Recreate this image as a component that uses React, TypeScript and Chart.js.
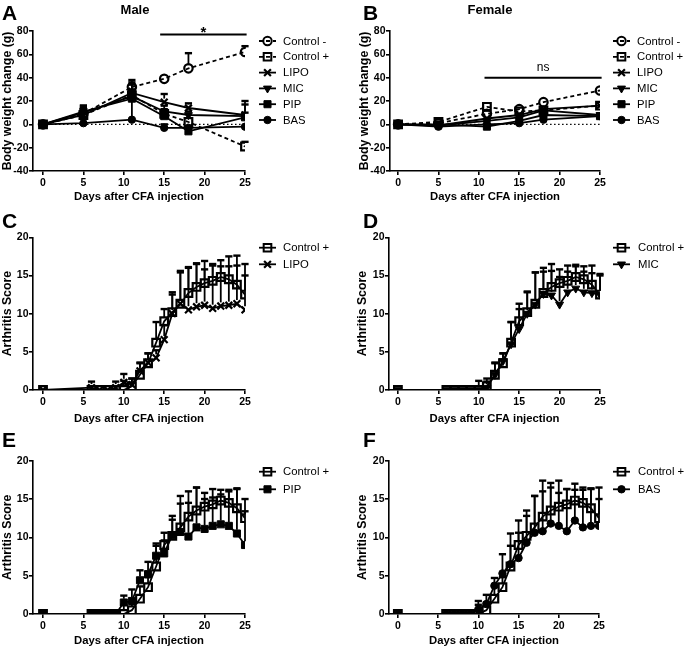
import React, { useEffect, useRef } from 'react';
import { Chart, registerables } from 'chart.js';

Chart.register(...registerables);

// ---------------- DATA ----------------
const bwDays = [0, 5, 11, 15, 18, 25];
const bwTicksX = [0, 5, 10, 15, 20, 25];
const bwTicksY = [-40, -20, 0, 20, 40, 60, 80];

const maleCtrlNeg = [0, 9, 32, 39, 48, 62];
const maleCtrlNegErr = [0, 5, 6, 2, 13, 5];
const maleCtrlPos = [0, 8, 25, 9, 2, -19];
const maleCtrlPosErr = [0, 4, 5, 4, 3, 4];
const maleLIPO = [0, 8, 27, 19, 14, 8];
const maleLIPOErr = [0, 6, 9, 7, 4, 12];
const maleMIC = [0, 10, 24, 11, 8, 7];
const maleMICErr = [0, 6, 10, 5, 3, 10];
const malePIP = [0, 11, 22, 7, -6, 6];
const malePIPErr = [0, 5, 5, 5, 3, 4];
const maleBAS = [0, 1, 4, -3, -3, -2];
const maleBASErr = [0, 2, 18, 3, 2, 2];

const femCtrlNeg = [0, 1, 9, 13, 19, 29];
const femCtrlNegErr = [0, 1, 3, 2, 2, 2];
const femCtrlPos = [0, 2, 15, 11, 12, 16];
const femCtrlPosErr = [0, 1, 2, 2, 2, 2];
const femLIPO = [0, -1, 5, 8, 13, 16];
const femLIPOErr = [0, 1, 2, 2, 2, 2];
const femMIC = [0, -1, 3, 6, 12, 8];
const femMICErr = [0, 1, 2, 2, 2, 2];
const femPIP = [0, 0, -2, 3, 8, 7];
const femPIPErr = [0, 1, 1, 2, 2, 2];
const femBAS = [0, -2, 0, 1, 4, 7];
const femBASErr = [0, 1, 1, 1, 2, 2];

const arDays = [0, 6, 7, 8, 9, 10, 11, 12, 13, 14, 15, 16, 17, 18, 19, 20, 21, 22, 23, 24, 25];
const arTicksX = [0, 5, 10, 15, 20, 25];
const arTicksY = [0, 5, 10, 15, 20];

const arCtrlPos = [0, 0, 0, 0, 0, 0, 0.5, 2, 3.5, 6.2, 9, 10.2, 11.3, 12.7, 13.5, 14, 14.3, 14.8, 14.5, 13.8, 12.5];
const arCtrlPosErr = [0, 0, 0, 0, 0, 1.2, 1.0, 1.6, 1.3, 2.7, 1.6, 2.6, 4.1, 3.3, 3.0, 1.8, 2.0, 1.4, 1.7, 2.5, 2.5];
const arLIPO = [0, 0.3, 0, 0, 0.3, 1, 0.7, 2.5, 3.6, 4.2, 6.6, 10, 11.3, 10.5, 10.9, 11.1, 10.7, 11, 11.1, 11.3, 10.5];
const arLIPOErr = [0, 0.8, 0, 0, 0.8, 1.1, 0.8, 1.0, 1.2, 1.0, 1.9, 2.5, 4.3, 5.6, 5.7, 5.8, 5.8, 6.0, 6.4, 6.3, 6.0];
const arMIC = [0, 0, 0, 0, 0, 0, 0.3, 2, 3.8, 6, 8, 10, 11.2, 12.6, 12.4, 11.2, 12.8, 13.3, 12.8, 12.7, 12.5];
const arMICErr = [0, 0, 0, 0, 0, 0, 0.8, 1.5, 1.0, 2.9, 3.3, 2.9, 4.2, 2.9, 3.2, 3.6, 2.7, 3.1, 2.7, 2.6, 2.7];
const arPIP = [0, 0, 0, 0, 0, 1.5, 1.7, 4.4, 5.2, 7.6, 7.9, 10.3, 10.7, 10.1, 11.3, 11.1, 11.5, 11.7, 11.5, 10.5, 9];
const arPIPErr = [0, 0, 0, 0, 0, 0.9, 1.5, 1.3, 1.6, 1.6, 1.7, 2.0, 3.7, 4.4, 5.2, 3.9, 3.7, 3.9, 4.5, 5.9, 4.4];
const arBAS = [0, 0, 0, 0, 0, 0.6, 1.3, 3.7, 5.3, 6.5, 7.3, 9.3, 10.6, 10.8, 11.8, 11.5, 10.8, 12.2, 11.3, 11.5, 11.5];
const arBASErr = [0, 0, 0, 0, 0, 1.1, 1.2, 1.0, 2.5, 4.0, 4.9, 4.2, 4.8, 6.6, 5.3, 5.9, 5.5, 4.8, 5.2, 4.9, 5.0];

// ---------------- STYLE ----------------
const FONT = "'Liberation Sans', Arial, Helvetica, sans-serif";

type MarkerStyle = { shape: string; radius: number; rotation: number; hollow: boolean; dashed: boolean };
const STYLES: Record<string, MarkerStyle> = {
  'Control -': { shape: 'circle', radius: 4.2, rotation: 0, hollow: true, dashed: true },
  'Control +': { shape: 'rect', radius: 5.4, rotation: 0, hollow: true, dashed: true },
  LIPO: { shape: 'crossRot', radius: 4.8, rotation: 0, hollow: false, dashed: false },
  MIC: { shape: 'triangle', radius: 4.6, rotation: 180, hollow: false, dashed: false },
  PIP: { shape: 'rect', radius: 5, rotation: 0, hollow: false, dashed: false },
  BAS: { shape: 'circle', radius: 3.7, rotation: 0, hollow: false, dashed: false },
};

type Series = { label: string; values: number[]; errors: number[] };

type PanelCfg = {
  key: string;
  x: number; y: number; w: number; h: number;
  area: { l: number; r: number; t: number; b: number };
  xMin: number; xMax: number; yMin: number; yMax: number;
  xTicks: number[]; yTicks: number[];
  days: number[];
  series: Series[];
  dashControls: boolean;
  yTitle: string;
  yTitleX: number; xTitleY: number;
  legend: { x0: number; x1: number; tx: number; y0: number; dy: number };
  letter: { text: string; x: number; base: number };
  title?: { text: string; x: number; y: number };
  sig?: { x0: number; x1: number; yv: number; text: string; bold: boolean; size: number; dy: number };
  zeroLine: boolean;
};

const PANELS: PanelCfg[] = [
  {
    key: 'A', x: 0, y: 0, w: 340, h: 210,
    area: { l: 33, r: 245, t: 31, b: 171 },
    xMin: -1.24, xMax: 25, yMin: -40, yMax: 80, xTicks: bwTicksX, yTicks: bwTicksY,
    days: bwDays,
    series: [
      { label: 'Control -', values: maleCtrlNeg, errors: maleCtrlNegErr },
      { label: 'Control +', values: maleCtrlPos, errors: maleCtrlPosErr },
      { label: 'LIPO', values: maleLIPO, errors: maleLIPOErr },
      { label: 'MIC', values: maleMIC, errors: maleMICErr },
      { label: 'PIP', values: malePIP, errors: malePIPErr },
      { label: 'BAS', values: maleBAS, errors: maleBASErr },
    ],
    dashControls: true,
    yTitle: 'Body weight change (g)', yTitleX: 8, xTitleY: 197,
    legend: { x0: 259, x1: 276, tx: 283, y0: 41, dy: 15.8 },
    letter: { text: 'A', x: 2, base: 20 },
    title: { text: 'Male', x: 135, y: 10 },
    sig: { x0: 14.5, x1: 25.2, yv: 77, text: '*', bold: true, size: 15, dy: 2 },
    zeroLine: true,
  },
  {
    key: 'B', x: 340, y: 0, w: 345, h: 210,
    area: { l: 50, r: 260, t: 31, b: 171 },
    xMin: -1.0, xMax: 25, yMin: -40, yMax: 80, xTicks: bwTicksX, yTicks: bwTicksY,
    days: bwDays,
    series: [
      { label: 'Control -', values: femCtrlNeg, errors: femCtrlNegErr },
      { label: 'Control +', values: femCtrlPos, errors: femCtrlPosErr },
      { label: 'LIPO', values: femLIPO, errors: femLIPOErr },
      { label: 'MIC', values: femMIC, errors: femMICErr },
      { label: 'PIP', values: femPIP, errors: femPIPErr },
      { label: 'BAS', values: femBAS, errors: femBASErr },
    ],
    dashControls: true,
    yTitle: 'Body weight change (g)', yTitleX: 25, xTitleY: 197,
    legend: { x0: 273, x1: 290, tx: 297, y0: 41, dy: 15.8 },
    letter: { text: 'B', x: 23, base: 20 },
    title: { text: 'Female', x: 150, y: 10 },
    sig: { x0: 10.7, x1: 25.2, yv: 40, text: 'ns', bold: false, size: 12, dy: -7 },
    zeroLine: true,
  },
  {
    key: 'C', x: 0, y: 210, w: 340, h: 220,
    area: { l: 33, r: 245, t: 27.3, b: 180 },
    xMin: -1.24, xMax: 25, yMin: 0, yMax: 20, xTicks: arTicksX, yTicks: arTicksY,
    days: arDays,
    series: [
      { label: 'Control +', values: arCtrlPos, errors: arCtrlPosErr },
      { label: 'LIPO', values: arLIPO, errors: arLIPOErr },
    ],
    dashControls: false,
    yTitle: 'Arthritis Score', yTitleX: 8, xTitleY: 209,
    legend: { x0: 259, x1: 276, tx: 283, y0: 37.7, dy: 16.6 },
    letter: { text: 'C', x: 2, base: 18.3 },
    zeroLine: false,
  },
  {
    key: 'D', x: 340, y: 210, w: 345, h: 220,
    area: { l: 49, r: 260, t: 27.3, b: 180 },
    xMin: -1.1, xMax: 25, yMin: 0, yMax: 20, xTicks: arTicksX, yTicks: arTicksY,
    days: arDays,
    series: [
      { label: 'Control +', values: arCtrlPos, errors: arCtrlPosErr },
      { label: 'MIC', values: arMIC, errors: arMICErr },
    ],
    dashControls: false,
    yTitle: 'Arthritis Score', yTitleX: 23, xTitleY: 209,
    legend: { x0: 273, x1: 290, tx: 298, y0: 37.7, dy: 16.6 },
    letter: { text: 'D', x: 23, base: 18.3 },
    zeroLine: false,
  },
  {
    key: 'E', x: 0, y: 430, w: 340, h: 221,
    area: { l: 33, r: 245, t: 30.7, b: 184 },
    xMin: -1.24, xMax: 25, yMin: 0, yMax: 20, xTicks: arTicksX, yTicks: arTicksY,
    days: arDays,
    series: [
      { label: 'Control +', values: arCtrlPos, errors: arCtrlPosErr },
      { label: 'PIP', values: arPIP, errors: arPIPErr },
    ],
    dashControls: false,
    yTitle: 'Arthritis Score', yTitleX: 8, xTitleY: 210.7,
    legend: { x0: 259, x1: 276, tx: 283, y0: 41.7, dy: 17.6 },
    letter: { text: 'E', x: 2, base: 16.7 },
    zeroLine: false,
  },
  {
    key: 'F', x: 340, y: 430, w: 345, h: 221,
    area: { l: 49, r: 259, t: 30.7, b: 184 },
    xMin: -1.1, xMax: 25, yMin: 0, yMax: 20, xTicks: arTicksX, yTicks: arTicksY,
    days: arDays,
    series: [
      { label: 'Control +', values: arCtrlPos, errors: arCtrlPosErr },
      { label: 'BAS', values: arBAS, errors: arBASErr },
    ],
    dashControls: false,
    yTitle: 'Arthritis Score', yTitleX: 23, xTitleY: 210.7,
    legend: { x0: 273, x1: 290, tx: 298, y0: 41.7, dy: 17.6 },
    letter: { text: 'F', x: 23, base: 16.7 },
    zeroLine: false,
  },
];

// ---------------- DRAW HELPERS ----------------
function drawMarker(ctx: CanvasRenderingContext2D, st: MarkerStyle, x: number, y: number) {
  const r = st.radius;
  ctx.save();
  ctx.strokeStyle = '#000';
  ctx.fillStyle = '#000';
  ctx.lineWidth = st.hollow ? 2 : 1;
  ctx.setLineDash([]);
  ctx.beginPath();
  if (st.shape === 'circle') {
    ctx.arc(x, y, r, 0, Math.PI * 2);
  } else if (st.shape === 'rect') {
    const s = r * Math.SQRT1_2;
    ctx.rect(x - s, y - s, 2 * s, 2 * s);
  } else if (st.shape === 'triangle') {
    let rad = (st.rotation * Math.PI) / 180;
    ctx.moveTo(x + Math.sin(rad) * r, y - Math.cos(rad) * r);
    rad += (2 * Math.PI) / 3;
    ctx.lineTo(x + Math.sin(rad) * r, y - Math.cos(rad) * r);
    rad += (2 * Math.PI) / 3;
    ctx.lineTo(x + Math.sin(rad) * r, y - Math.cos(rad) * r);
    ctx.closePath();
  } else if (st.shape === 'crossRot') {
    const o = Math.cos(Math.PI / 4) * r;
    ctx.moveTo(x - o, y - o);
    ctx.lineTo(x + o, y + o);
    ctx.moveTo(x + o, y - o);
    ctx.lineTo(x - o, y + o);
    ctx.lineWidth = 2.2;
    ctx.stroke();
    ctx.restore();
    return;
  }
  if (!st.hollow) ctx.fill();
  ctx.stroke();
  ctx.restore();
}

function makePlugin(p: PanelCfg) {
  return {
    id: 'deco' + p.key,
    beforeDatasetsDraw(chart: any) {
      if (!p.zeroLine) return;
      const { ctx } = chart;
      const xs = chart.scales.x;
      const ys = chart.scales.y;
      const yy = ys.getPixelForValue(0);
      ctx.save();
      ctx.strokeStyle = '#000';
      ctx.lineWidth = 1.3;
      ctx.setLineDash([1.5, 2.5]);
      ctx.beginPath();
      ctx.moveTo(xs.getPixelForValue(0), yy);
      ctx.lineTo(xs.getPixelForValue(25), yy);
      ctx.stroke();
      ctx.restore();
    },
    afterDatasetsDraw(chart: any) {
      const { ctx } = chart;
      const xs = chart.scales.x;
      const ys = chart.scales.y;
      ctx.save();
      ctx.strokeStyle = '#000';
      ctx.setLineDash([]);
      chart.data.datasets.forEach((ds: any) => {
        const errs: number[] = ds.errors || [];
        ds.data.forEach((pt: any, i: number) => {
          const e = errs[i];
          if (!e) return;
          const px = xs.getPixelForValue(pt.x);
          const py = ys.getPixelForValue(pt.y);
          const pt2 = ys.getPixelForValue(pt.y + e);
          const start = py - ds.pointRadius * 0.75;
          if (pt2 >= start) return;
          ctx.lineWidth = 1.8;
          ctx.beginPath();
          ctx.moveTo(px, start);
          ctx.lineTo(px, pt2);
          ctx.stroke();
          ctx.lineWidth = 2.4;
          ctx.beginPath();
          ctx.moveTo(px - 3.6, pt2);
          ctx.lineTo(px + 3.6, pt2);
          ctx.stroke();
        });
      });
      ctx.restore();
    },
    afterDraw(chart: any) {
      const { ctx } = chart;
      const xs = chart.scales.x;
      const ys = chart.scales.y;
      ctx.save();
      ctx.fillStyle = '#000';
      ctx.strokeStyle = '#000';
      // legend
      const lg = p.legend;
      chart.data.datasets.forEach((ds: any, i: number) => {
        const st = STYLES[ds.label];
        const yy = lg.y0 + i * lg.dy;
        ctx.save();
        ctx.lineWidth = 1.8;
        ctx.setLineDash(ds.borderDash && ds.borderDash.length ? [4, 3] : []);
        ctx.beginPath();
        ctx.moveTo(lg.x0, yy);
        ctx.lineTo(lg.x1, yy);
        ctx.stroke();
        ctx.restore();
        drawMarker(ctx, st, (lg.x0 + lg.x1) / 2, yy);
        ctx.font = `normal 11.3px ${FONT}`;
        ctx.textAlign = 'left';
        ctx.textBaseline = 'middle';
        ctx.fillText(ds.label, lg.tx, yy + 0.5);
      });
      // panel letter
      ctx.font = `bold 21px ${FONT}`;
      ctx.textAlign = 'left';
      ctx.textBaseline = 'alphabetic';
      ctx.fillText(p.letter.text, p.letter.x, p.letter.base);
      // title
      if (p.title) {
        ctx.font = `bold 13px ${FONT}`;
        ctx.textAlign = 'center';
        ctx.textBaseline = 'middle';
        ctx.fillText(p.title.text, p.title.x, p.title.y);
      }
      // significance bar
      if (p.sig) {
        const s = p.sig;
        const yy = ys.getPixelForValue(s.yv);
        const x0 = xs.getPixelForValue(s.x0);
        const x1 = xs.getPixelForValue(s.x1);
        ctx.lineWidth = 2;
        ctx.setLineDash([]);
        ctx.beginPath();
        ctx.moveTo(x0, yy);
        ctx.lineTo(x1, yy);
        ctx.stroke();
        ctx.font = `${s.bold ? 'bold' : 'normal'} ${s.size}px ${FONT}`;
        ctx.textAlign = 'center';
        ctx.textBaseline = 'alphabetic';
        ctx.fillText(s.text, (x0 + x1) / 2, yy + s.dy);
      }
      ctx.restore();
    },
  };
}

function Panel({ p }: { p: PanelCfg }) {
  const ref = useRef<HTMLCanvasElement | null>(null);
  useEffect(() => {
    if (!ref.current) return;
    const datasets = p.series.map((s) => {
      const st = STYLES[s.label];
      const dashed = st.dashed && p.dashControls;
      return {
        label: s.label,
        data: p.days.map((d, i) => ({ x: d, y: s.values[i] })),
        errors: s.errors,
        borderColor: '#000',
        backgroundColor: st.hollow ? 'rgba(0,0,0,0)' : '#000',
        pointBackgroundColor: st.hollow ? 'rgba(0,0,0,0)' : '#000',
        pointBorderColor: '#000',
        pointStyle: st.shape,
        pointRadius: st.radius,
        pointHoverRadius: st.radius,
        pointRotation: st.rotation,
        pointBorderWidth: st.hollow || st.shape === 'crossRot' ? 2.2 : 1,
        borderWidth: 1.8,
        borderDash: dashed ? [4, 3] : [],
        tension: 0,
        fill: false,
      };
    });
    const padLeft = p.yTitleX - 8;
    const yTitleSize = 12.3;
    const xTitleSize = 11.3;
    const xTitlePadBottom = Math.max(0, p.h - p.xTitleY - (xTitleSize * 1.2) / 2);
    const chart = new Chart(ref.current, {
      type: 'line',
      data: { datasets: datasets as any },
      options: {
        animation: false,
        responsive: false,
        events: [],
        layout: { padding: { left: padLeft, right: p.w - p.area.r, top: p.area.t, bottom: 0 } },
        plugins: { legend: { display: false }, tooltip: { enabled: false }, title: { display: false } },
        scales: {
          x: {
            type: 'linear',
            min: p.xMin,
            max: p.xMax,
            afterBuildTicks: (s: any) => {
              s.ticks = p.xTicks.map((v) => ({ value: v }));
            },
            afterFit: (s: any) => {
              s.height = p.h - p.area.b;
            },
            grid: { display: true, drawOnChartArea: false, drawTicks: true, tickLength: 4, color: '#000', lineWidth: 1.6 },
            border: { display: true, color: '#000', width: 1.6 },
            ticks: { color: '#000', font: { family: FONT, size: 10.5, weight: 'bold' }, padding: 2, maxRotation: 0, autoSkip: false },
            title: {
              display: true,
              text: 'Days after CFA injection',
              color: '#000',
              font: { family: FONT, size: xTitleSize, weight: 'bold' },
              padding: { top: 0, bottom: xTitlePadBottom },
            },
          },
          y: {
            type: 'linear',
            min: p.yMin,
            max: p.yMax,
            afterBuildTicks: (s: any) => {
              s.ticks = p.yTicks.map((v) => ({ value: v }));
            },
            afterFit: (s: any) => {
              s.width = p.area.l - padLeft;
            },
            grid: { display: true, drawOnChartArea: false, drawTicks: true, tickLength: 4, color: '#000', lineWidth: 1.6 },
            border: { display: true, color: '#000', width: 1.6 },
            ticks: { color: '#000', font: { family: FONT, size: 10.5, weight: 'bold' }, padding: 0.5 },
            title: {
              display: true,
              text: p.yTitle,
              color: '#000',
              font: { family: FONT, size: yTitleSize, weight: 'bold' },
              padding: { top: 0.6, bottom: 0 },
            },
          },
        },
      } as any,
      plugins: [makePlugin(p) as any],
    });
    return () => chart.destroy();
  }, [p]);
  return (
    <canvas
      ref={ref}
      width={p.w}
      height={p.h}
      style={{ position: 'absolute', left: p.x, top: p.y, width: p.w, height: p.h }}
    />
  );
}

export default function App() {
  return (
    <div style={{ position: 'absolute', left: 0, top: 0, width: 685, height: 651, background: '#fff', overflow: 'hidden' }}>
      {PANELS.map((p) => (
        <Panel key={p.key} p={p} />
      ))}
    </div>
  );
}
